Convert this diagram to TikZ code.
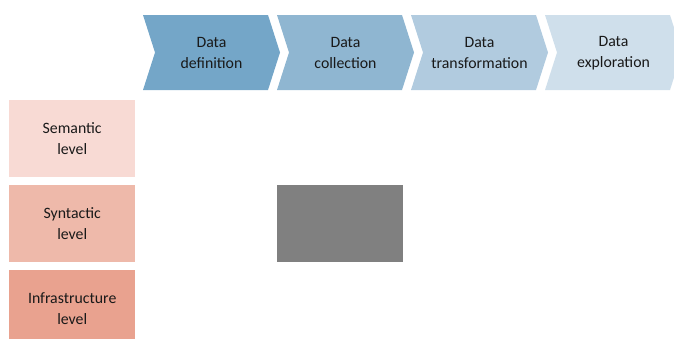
\documentclass[tikz,border=0pt]{standalone}
\usepackage{fontspec}
\setmainfont{Carlito}
\definecolor{stepA}{HTML}{74A6C8}
\definecolor{stepB}{HTML}{8FB6D1}
\definecolor{stepC}{HTML}{B1CBDF}
\definecolor{stepD}{HTML}{CFDFEB}
\definecolor{lvlA}{HTML}{F8DAD4}
\definecolor{lvlB}{HTML}{EEB9AA}
\definecolor{lvlC}{HTML}{E9A28F}
\definecolor{blockgray}{HTML}{808080}
\begin{document}
\begin{tikzpicture}[x=1pt,y=-1pt,
  label/.style={align=center,font=\fontsize{15.8}{20.5}\selectfont,text=black!90,inner sep=0pt},
  levelbox/.style={minimum width=126pt,minimum height=77pt,inner sep=0pt,anchor=north west}]
\clip (0,0) rectangle (674,338);
\useasboundingbox (0,0) rectangle (674,338);
% process chevrons: top-left x, fill colour, name, caption
\foreach \x/\col/\nm/\txt in {143/stepA/p1/{Data\\definition},
                              277/stepB/p2/{Data\\collection},
                              411/stepC/p3/{Data\\transformation},
                              545/stepD/p4/{Data\\exploration}}{
  \fill[\col] (\x,15) -- ++(125,0) -- ++(12,37.5) -- ++(-12,37.5)
              -- ++(-125,0) -- ++(12,-37.5) -- cycle;
  \node[label] (\nm) at (\x+68.5,53) {\txt};
}
% abstraction levels
\node[levelbox,fill=lvlA] (l1) at (9,100) {};
\node[label] (t1) at (l1.center) {Semantic\\level};
\node[levelbox,fill=lvlB] (l2) at (9,185) {};
\node[label] (t2) at (l2.center) {Syntactic\\level};
\node[levelbox,fill=lvlC] (l3) at (9,270) {};
\node[label] (t3) at (l3.center) {Infrastructure\\level};
% placeholder block
\node[fill=blockgray,minimum width=126pt,minimum height=77pt,inner sep=0pt,anchor=north west] (g) at (277,185) {};
\end{tikzpicture}
\end{document}
